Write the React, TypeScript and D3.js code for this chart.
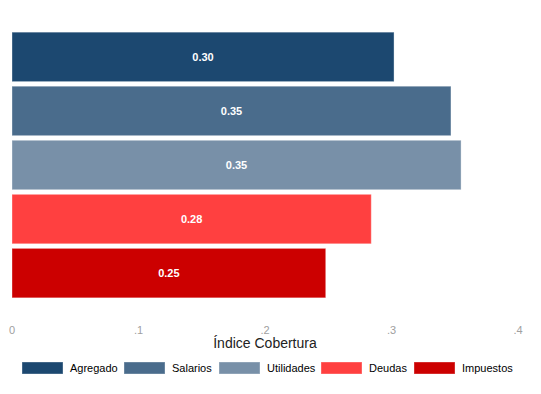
import * as d3 from "d3";
import { useEffect, useRef } from "react";

const categories = ["Agregado", "Salarios", "Utilidades", "Deudas", "Impuestos"];
const values = [0.302, 0.347, 0.355, 0.284, 0.248];
const labels = ["0.30", "0.35", "0.35", "0.28", "0.25"];
const colors = ["#1c4870", "#4a6c8c", "#7890a8", "#ff4040", "#cc0000"];
const ticks = [0, 0.1, 0.2, 0.3, 0.4];
const tickLabels = ["0", ".1", ".2", ".3", ".4"];
// legend key left edges
const legendX = [22, 124, 219, 321, 414];

const W = 541;
const H = 394;

export default function App() {
  const ref = useRef<SVGSVGElement>(null);

  useEffect(() => {
    const svg = d3.select(ref.current);
    svg.selectAll("*").remove();
    const font = "'Liberation Sans', Arial, sans-serif";

    const x = d3.scaleLinear().domain([0, 0.4]).range([12, 518]);
    const y = d3.scaleBand().domain(categories).range([30, 300]).paddingInner(0.085).paddingOuter(0.04);

    const rows = categories.map((c, i) => ({ c, v: values[i], l: labels[i], col: colors[i] }));

    svg
      .selectAll("rect.bar")
      .data(rows)
      .enter()
      .append("rect")
      .attr("class", "bar")
      .attr("x", x(0))
      .attr("y", (d) => y(d.c)!)
      .attr("width", (d) => x(d.v) - x(0))
      .attr("height", y.bandwidth())
      .attr("fill", (d) => d.col)
      .attr("stroke", "#ffffff")
      .attr("stroke-opacity", 0.35)
      .attr("stroke-width", 1);

    svg
      .selectAll("text.val")
      .data(rows)
      .enter()
      .append("text")
      .attr("class", "val")
      .attr("x", (d) => (x(0) + x(d.v)) / 2)
      .attr("y", (d) => y(d.c)! + y.bandwidth() / 2 + 4)
      .attr("text-anchor", "middle")
      .attr("fill", "#ffffff")
      .attr("font-family", font)
      .attr("font-weight", "bold")
      .attr("font-size", 11)
      .text((d) => d.l);

    // x axis labels, no line
    svg
      .selectAll("text.tick")
      .data(ticks)
      .enter()
      .append("text")
      .attr("class", "tick")
      .attr("x", (d) => x(d))
      .attr("y", 334)
      .attr("text-anchor", "middle")
      .attr("fill", "#a0a0a0")
      .attr("font-family", font)
      .attr("font-size", 11)
      .text((d, i) => tickLabels[i]);

    svg
      .append("text")
      .attr("x", (x(0) + x(0.4)) / 2)
      .attr("y", 348)
      .attr("text-anchor", "middle")
      .attr("fill", "#222")
      .attr("font-family", font)
      .attr("font-size", 14)
      .text("Índice Cobertura");

    // legend
    const items = svg
      .append("g")
      .selectAll("g")
      .data(rows)
      .enter()
      .append("g")
      .attr("transform", (d, i) => `translate(${legendX[i]},0)`);
    items
      .append("rect")
      .attr("width", 41)
      .attr("height", 12)
      .attr("y", 362)
      .attr("fill", (d) => d.col)
      .attr("stroke", "#ffffff")
      .attr("stroke-opacity", 0.35);
    items
      .append("text")
      .attr("x", 48)
      .attr("y", 372)
      .attr("fill", "#000")
      .attr("font-family", font)
      .attr("font-size", 11)
      .text((d) => d.c);
  }, []);

  return (
    <div style={{ margin: -8 }}>
      <svg ref={ref} width={W} height={H} style={{ display: "block", background: "#fff" }} />
    </div>
  );
}
